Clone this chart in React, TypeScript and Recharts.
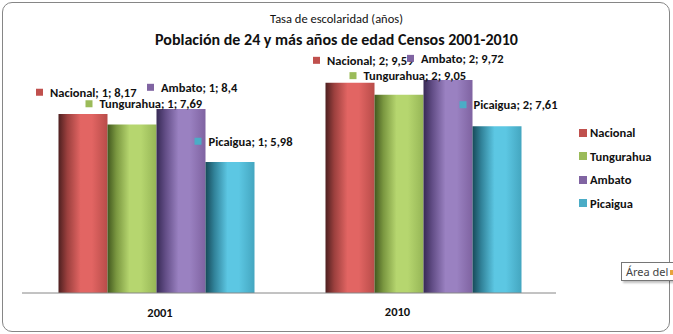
import React from "react";
import { BarChart, Bar, XAxis, YAxis, LabelList } from "recharts";

const categories = ["2001", "2010"];
const seriesNames = ["Nacional", "Tungurahua", "Ambato", "Picaigua"];
const nacional = [8.17, 9.59];
const tungurahua = [7.69, 9.05];
const ambato = [8.4, 9.72];
const picaigua = [5.98, 7.61];

const data = categories.map((year, i) => ({
  year,
  Nacional: nacional[i],
  Tungurahua: tungurahua[i],
  Ambato: ambato[i],
  Picaigua: picaigua[i],
}));

const FONT = "Carlito, Lato, 'Open Sans', sans-serif";

const colors: Record<string, { base: string; dark: string; mid: string; light: string; edge: string }> = {
  Nacional: { base: "#C0504D", dark: "#4e2020", mid: "#9c403e", light: "#e26563", edge: "#b84c49" },
  Tungurahua: { base: "#9BBB59", dark: "#42581f", mid: "#7a9740", light: "#b6d66f", edge: "#96b656" },
  Ambato: { base: "#8064A2", dark: "#372a55", mid: "#624d86", light: "#9a81c1", edge: "#7f63a1" },
  Picaigua: { base: "#4BACC6", dark: "#174a59", mid: "#318299", light: "#5cc7e3", edge: "#44a6c0" },
};

// hand-placed data labels (like in the excel original): [dx, dy] from bar top-left
const labelOffsets: Record<string, number[][]> = {
  Nacional: [[-22.5, -21.7], [-12.5, -22.5]],
  Tungurahua: [[-22, -20.7], [-25, -19]],
  Ambato: [[-9.5, -21.6], [-16.5, -21.6]],
  Picaigua: [[-11, -20.7], [-13, -21.5]],
};

const tickShift = [[4.5, 11.5], [-25, 10]];

function makeLabel(name: string) {
  return (props: any) => {
    const { x, y, value, index } = props;
    const off = labelOffsets[name][index];
    const mx = Number(x) + off[0];
    const my = Number(y) + off[1];
    return (
      <g>
        <rect x={mx} y={my - 3.5} width={7} height={7} fill={colors[name].base} />
        <text
          x={mx + 14}
          y={my}
          dominantBaseline="central"
          fontFamily={FONT}
          fontWeight="bold"
          fontSize={12.5}
          fill="#111"
        >
          {`${name}; ${index + 1}; ${String(value).replace(".", ",")}`}
        </text>
      </g>
    );
  };
}

const YearTick = (props: any) => {
  const { x, y, payload, index } = props;
  const s = tickShift[index] || [0, 0];
  return (
    <text
      x={x + s[0]}
      y={y + s[1]}
      textAnchor="middle"
      dominantBaseline="central"
      fontFamily={FONT}
      fontWeight="bold"
      fontSize={12.5}
      fill="#111"
    >
      {payload.value}
    </text>
  );
};

export default function App() {
  return (
    <div style={{ position: "absolute", left: 0, top: 0, width: 673, height: 334, background: "#fff", fontFamily: FONT }}>
      <svg width={0} height={0} style={{ position: "absolute" }}>
        <defs>
          {seriesNames.map((n) => (
            <linearGradient key={n} id={`g-${n}`} x1="0" y1="0" x2="1" y2="0">
              <stop offset="0%" stopColor={colors[n].dark} />
              <stop offset="18%" stopColor={colors[n].mid} />
              <stop offset="45%" stopColor={colors[n].light} />
              <stop offset="68%" stopColor={colors[n].light} />
              <stop offset="100%" stopColor={colors[n].edge} />
            </linearGradient>
          ))}
        </defs>
      </svg>
      <div
        style={{
          position: "absolute", left: 2, top: 2, width: 666, height: 328,
          border: "1px solid #868686", borderRadius: 10,
        }}
      />
      <div style={{ position: "absolute", left: 0, width: 673, top: 11, textAlign: "center", fontSize: 12.5, color: "#111" }}>
        Tasa de escolaridad (años)
      </div>
      <div style={{ position: "absolute", left: 0, width: 673, top: 30, textAlign: "center", fontSize: 16, fontWeight: "bold", color: "#111" }}>
        Población de 24 y más años de edad Censos 2001-2010
      </div>
      <div style={{ position: "absolute", left: 0, top: 0 }}>
        <BarChart
          width={673}
          height={334}
          data={data}
          margin={{ top: 30, right: 117, left: 22, bottom: 0 }}
          barCategoryGap={36.5}
          barGap={0}
        >
          <XAxis
            dataKey="year"
            height={41}
            axisLine={{ stroke: "#868686" }}
            tickLine={false}
            tick={<YearTick />}
          />
          <YAxis hide domain={[0, 12]} />
          {seriesNames.map((n) => (
            <Bar key={n} dataKey={n} fill={`url(#g-${n})`} isAnimationActive={false}>
              <LabelList dataKey={n} content={makeLabel(n)} />
            </Bar>
          ))}
        </BarChart>
      </div>
      <div style={{ position: "absolute", left: 579, top: 121 }}>
        {seriesNames.map((n) => (
          <div key={n} style={{ display: "flex", alignItems: "center", height: 23.5 }}>
            <span style={{ width: 8, height: 8, background: colors[n].base, marginRight: 3 }} />
            <span style={{ fontSize: 12.5, fontWeight: "bold", color: "#111" }}>{n}</span>
          </div>
        ))}
      </div>
      <div
        style={{
          position: "absolute", left: 621, top: 262, width: 60, height: 19,
          border: "1px solid #767676", background: "#fff", boxShadow: "2px 2px 2px rgba(0,0,0,0.25)",
          fontFamily: "'Noto Sans', sans-serif", fontSize: 11, color: "#444", lineHeight: "18px", paddingLeft: 4, boxSizing: "border-box",
          whiteSpace: "nowrap", overflow: "hidden",
        }}
      >
        Área del
        <span style={{ position: "absolute", left: 48, top: 7, width: 3, height: 5, background: "#e8a33c" }} />
      </div>
    </div>
  );
}
